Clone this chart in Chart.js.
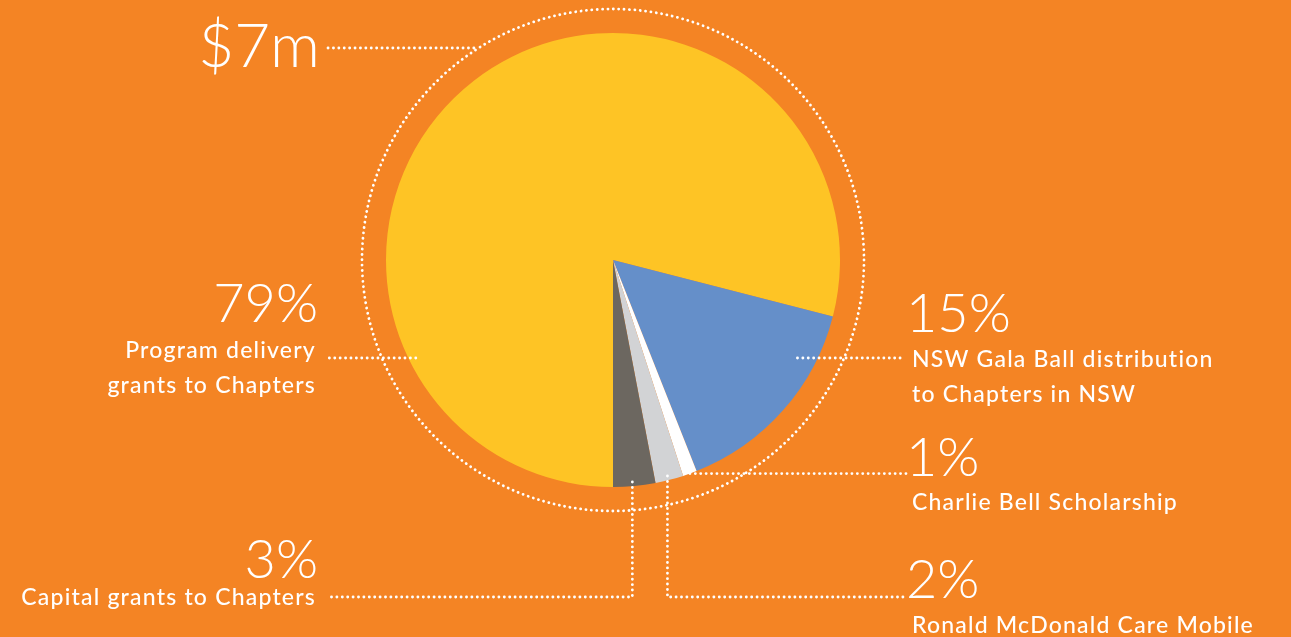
<!DOCTYPE html>
<html>
<head>
<meta charset="utf-8">
<script src="https://cdn.jsdelivr.net/npm/chart.js@4.4.0/dist/chart.umd.min.js"></script>
<style>
  html, body { margin: 0; padding: 0; background: #F48424; }
  #wrap { width: 1291px; height: 637px; position: relative; }
</style>
</head>
<body>
<div id="wrap"><canvas id="grafico"></canvas></div>
<script>
// dados
const categorias = [
  'Program delivery grants to Chapters',
  'NSW Gala Ball distribution to Chapters in NSW',
  'Charlie Bell Scholarship',
  'Ronald McDonald Care Mobile',
  'Capital grants to Chapters'
];
const valores = [79, 15, 1, 2, 3];
const cores = ['#FEC425', '#658FC9', '#FFFFFF', '#D2D3D5', '#6C6760'];
const total = '$7m';

// rotulos (texto + posicao da linha pontilhada)
const rotulos = [
  { pct: '79%', linhas: ['Program delivery', 'grants to Chapters'], lado: 'esq', x: 318, yPct: 322, yTxt: 358, tipo: 'horiz', ly: 358, lx: 326, rf: 0.97 },
  { pct: '15%', linhas: ['NSW Gala Ball distribution', 'to Chapters in NSW'], lado: 'dir', x: 906, yPct: 332, yTxt: 367, tipo: 'horiz', ly: 358, lx: 905, rf: 0.92 },
  { pct: '1%', linhas: ['Charlie Bell Scholarship'], lado: 'dir', x: 906, yPct: 476, yTxt: 510, tipo: 'ponta', lx: 906 },
  { pct: '2%', linhas: ['Ronald McDonald Care Mobile'], lado: 'dir', x: 906, yPct: 598, yTxt: 633, tipo: 'desce', ly: 597, lx: 906 },
  { pct: '3%', linhas: ['Capital grants to Chapters'], lado: 'esq', x: 318, yPct: 578, yTxt: 605, tipo: 'desce', ly: 597, lx: 330 }
];

function pontilhado(ctx, pts) {
  ctx.save();
  ctx.strokeStyle = '#ffffff';
  ctx.lineWidth = 2.8;
  ctx.lineCap = 'round';
  ctx.setLineDash([0.1, 5.3]);
  ctx.beginPath();
  ctx.moveTo(pts[0][0], pts[0][1]);
  for (let i = 1; i < pts.length; i++) ctx.lineTo(pts[i][0], pts[i][1]);
  ctx.stroke();
  ctx.restore();
}

const rotulosPlugin = {
  id: 'rotulos',
  afterDraw(chart) {
    const ctx = chart.ctx;
    const arcos = chart.getDatasetMeta(0).data;
    const cx = arcos[0].x, cy = arcos[0].y, r = arcos[0].outerRadius;

    // circulo pontilhado em volta
    ctx.save();
    ctx.strokeStyle = '#ffffff';
    ctx.lineWidth = 2.8;
    ctx.lineCap = 'round';
    ctx.setLineDash([0.1, 5.3]);
    ctx.beginPath();
    ctx.arc(cx, cy, r + 24, 0, Math.PI * 2);
    ctx.stroke();
    ctx.restore();

    // $7m
    const yTotal = 48;
    const xCirc = cx - Math.sqrt(Math.pow(r + 24, 2) - Math.pow(cy - yTotal, 2));
    pontilhado(ctx, [[328, yTotal], [xCirc, yTotal]]);
    ctx.fillStyle = '#ffffff';
    ctx.font = '300 62px Lato';
    ctx.textAlign = 'right';
    ctx.fillText(total, 320, 67);

    rotulos.forEach((rot, i) => {
      const a = arcos[i];
      const meio = (a.startAngle + a.endAngle) / 2;
      if (rot.tipo === 'horiz') {
        const d = Math.sqrt(Math.pow(r * rot.rf, 2) - Math.pow(rot.ly - cy, 2));
        const ax = rot.lado === 'esq' ? cx - d : cx + d;
        pontilhado(ctx, [[ax, rot.ly], [rot.lx, rot.ly]]);
      } else if (rot.tipo === 'ponta') {
        const px = cx + Math.cos(meio) * r, py = cy + Math.sin(meio) * r;
        pontilhado(ctx, [[px, py], [rot.lx, py]]);
      } else {
        const px = cx + Math.cos(meio) * r - 2, py = cy + Math.sin(meio) * (r - 4);
        pontilhado(ctx, [[px, py], [px, rot.ly], [rot.lx, rot.ly]]);
      }

      ctx.fillStyle = '#ffffff';
      ctx.textAlign = rot.lado === 'esq' ? 'right' : 'left';
      ctx.letterSpacing = '0px';
      ctx.font = '300 54px Lato';
      ctx.fillText(rot.pct, rot.x, rot.yPct);
      ctx.font = '500 23px Lato';
      ctx.letterSpacing = '1.2px';
      rot.linhas.forEach((l, k) => {
        ctx.fillText(l, rot.lado === 'esq' ? rot.x - 2 : rot.x + 6, rot.yTxt + k * 35);
      });
      ctx.letterSpacing = '0px';
    });
  }
};

new Chart(document.getElementById('grafico'), {
  type: 'pie',
  data: {
    labels: categorias,
    datasets: [{
      data: valores,
      backgroundColor: cores,
      borderWidth: 0
    }]
  },
  options: {
    responsive: true,
    maintainAspectRatio: false,
    animation: false,
    rotation: 180,
    layout: { padding: { left: 386, right: 451, top: 33, bottom: 150 } },
    plugins: {
      legend: { display: false },
      tooltip: { enabled: false }
    }
  },
  plugins: [rotulosPlugin]
});
</script>
</body>
</html>
